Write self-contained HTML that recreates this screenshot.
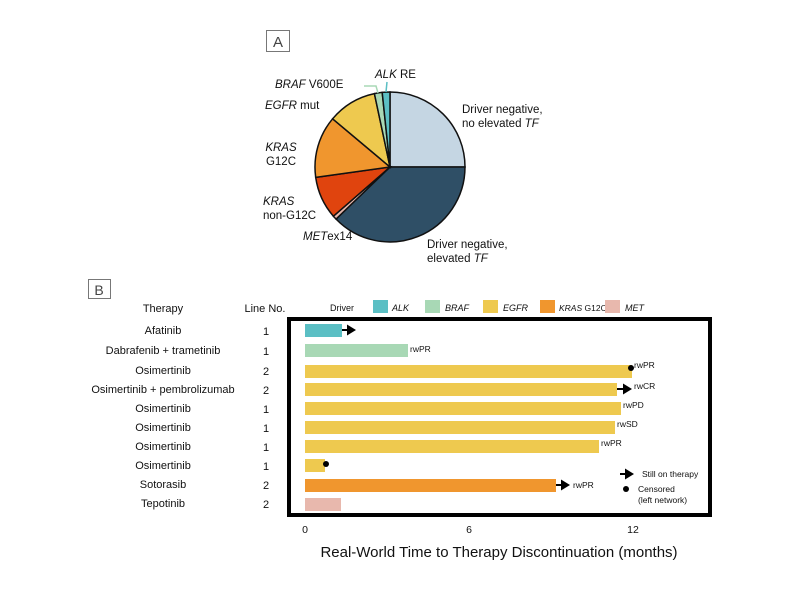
<!DOCTYPE html><html><head><style>body{margin:0;background:#fff;}svg{display:block;font-family:"Liberation Sans",sans-serif;}</style></head><body>
<svg width="800" height="592" viewBox="0 0 800 592">
<rect x="266.5" y="30.5" width="23" height="21" fill="none" stroke="#777"/>
<text x="278" y="47" font-size="15" text-anchor="middle" fill="#444">A</text>
<g stroke="#111" stroke-width="1.5">
<path d="M390,167 L390,92 A75,75 0 0 1 465,167Z" fill="#c5d6e3"/>
<path d="M390,167 L465,167 A75,75 0 0 1 336.1,219.1Z" fill="#2f4f66"/>
<path d="M390,167 L336.1,219.1 A75,75 0 0 1 333.4,216.2Z" fill="#e8b8ad"/>
<path d="M390,167 L333.4,216.2 A75,75 0 0 1 315.7,177.4Z" fill="#e0440e"/>
<path d="M390,167 L315.7,177.4 A75,75 0 0 1 332.6,118.8Z" fill="#f0962e"/>
<path d="M390,167 L332.6,118.8 A75,75 0 0 1 374.4,93.6Z" fill="#eec94f"/>
<path d="M390,167 L374.4,93.6 A75,75 0 0 1 382.2,92.4Z" fill="#a8d8b5"/>
<path d="M390,167 L382.2,92.4 A75,75 0 0 1 390,92Z" fill="#5bbfc4"/>
</g>
<path d="M364,86 L376,86 L378,93" fill="none" stroke="#a8d8b5" stroke-width="1.5"/>
<path d="M387,82 L386,92" fill="none" stroke="#5bbfc4" stroke-width="1.5"/>
<g font-size="11.5" fill="#111">
<text x="375" y="78"><tspan font-style="italic">ALK</tspan> RE</text>
<text x="275" y="88"><tspan font-style="italic">BRAF</tspan> V600E</text>
<text x="265" y="109"><tspan font-style="italic">EGFR</tspan>  mut</text>
<text x="462" y="113">Driver negative,</text>
<text x="462" y="127">no elevated <tspan font-style="italic">TF</tspan></text>
<text x="281" y="151" text-anchor="middle" font-style="italic">KRAS</text>
<text x="281" y="165" text-anchor="middle">G12C</text>
<text x="263" y="205" font-style="italic">KRAS</text>
<text x="263" y="219">non-G12C</text>
<text x="303" y="240"><tspan font-style="italic">MET</tspan>ex14</text>
<text x="427" y="248">Driver negative,</text>
<text x="427" y="262">elevated <tspan font-style="italic">TF</tspan></text>
</g>
<rect x="88.5" y="279.5" width="22" height="19" fill="none" stroke="#777"/>
<text x="99" y="295" font-size="14" text-anchor="middle" fill="#444">B</text>
<g font-size="11" fill="#111">
<text x="163" y="312" text-anchor="middle">Therapy</text>
<text x="265" y="312" text-anchor="middle">Line No.</text>
<text x="330" y="311" font-size="9">Driver</text>
<rect x="373" y="300" width="15" height="13" fill="#5bbfc4"/><text x="392" y="311" font-size="9" font-style="italic">ALK</text>
<rect x="425" y="300" width="15" height="13" fill="#a8d8b5"/><text x="445" y="311" font-size="9" font-style="italic">BRAF</text>
<rect x="483" y="300" width="15" height="13" fill="#eec94f"/><text x="503" y="311" font-size="9" font-style="italic">EGFR</text>
<rect x="540" y="300" width="15" height="13" fill="#f0962e"/><text x="559" y="311" font-size="8.5"><tspan font-style="italic">KRAS</tspan> G12C</text>
<rect x="605" y="300" width="15" height="13" fill="#e8b8ad"/><text x="625" y="311" font-size="9" font-style="italic">MET</text>
</g>
<rect x="289" y="319" width="421" height="196" fill="none" stroke="#000" stroke-width="4"/>
<g font-size="11" fill="#111" text-anchor="middle">
<text x="163" y="334">Afatinib</text><text x="266" y="335">1</text>
<text x="163" y="354">Dabrafenib + trametinib</text><text x="266" y="355">1</text>
<text x="163" y="374">Osimertinib</text><text x="266" y="375">2</text>
<text x="163" y="393">Osimertinib + pembrolizumab</text><text x="266" y="394">2</text>
<text x="163" y="412">Osimertinib</text><text x="266" y="413">1</text>
<text x="163" y="431">Osimertinib</text><text x="266" y="432">1</text>
<text x="163" y="450">Osimertinib</text><text x="266" y="451">1</text>
<text x="163" y="469">Osimertinib</text><text x="266" y="470">1</text>
<text x="163" y="488">Sotorasib</text><text x="266" y="489">2</text>
<text x="163" y="507">Tepotinib</text><text x="266" y="508">2</text>
</g>
<g>
<rect x="305" y="324" width="37" height="13" fill="#5bbfc4"/>
<rect x="305" y="344" width="103" height="13" fill="#a8d8b5"/>
<rect x="305" y="365" width="327" height="13" fill="#eec94f"/>
<rect x="305" y="383" width="312" height="13" fill="#eec94f"/>
<rect x="305" y="402" width="316" height="13" fill="#eec94f"/>
<rect x="305" y="421" width="310" height="13" fill="#eec94f"/>
<rect x="305" y="440" width="294" height="13" fill="#eec94f"/>
<rect x="305" y="459" width="20" height="13" fill="#eec94f"/>
<rect x="305" y="479" width="251" height="13" fill="#f0962e"/>
<rect x="305" y="498" width="36" height="13" fill="#e8b8ad"/>
</g>
<g stroke="#000" stroke-width="2">
<line x1="342" y1="330" x2="348" y2="330"/>
<line x1="617" y1="389" x2="624" y2="389"/>
<line x1="556" y1="485" x2="562" y2="485"/>
<line x1="620" y1="474" x2="626" y2="474"/>
</g>
<g fill="#000">
<path d="M347,324.5 L356,330 L347,335.5Z"/>
<path d="M623,383.5 L632,389 L623,394.5Z"/>
<path d="M561,479.5 L570,485 L561,490.5Z"/>
<path d="M625,468.5 L634,474 L625,479.5Z"/>
</g>
<circle cx="631" cy="368" r="3" fill="#000"/>
<circle cx="326" cy="464" r="3" fill="#000"/>
<circle cx="626" cy="489" r="3" fill="#000"/>
<g font-size="8.5" fill="#111">
<text x="410" y="352">rwPR</text>
<text x="634" y="368">rwPR</text>
<text x="634" y="389">rwCR</text>
<text x="623" y="408">rwPD</text>
<text x="617" y="427">rwSD</text>
<text x="601" y="446">rwPR</text>
<text x="573" y="488">rwPR</text>
<text x="642" y="477">Still on therapy</text>
<text x="638" y="492">Censored</text>
<text x="638" y="503">(left network)</text>
</g>
<g font-size="10.5" fill="#111" text-anchor="middle">
<text x="305" y="533">0</text><text x="469" y="533">6</text><text x="633" y="533">12</text>
</g>
<text x="499" y="557" font-size="15" text-anchor="middle" fill="#111">Real-World Time to Therapy Discontinuation (months)</text>
</svg></body></html>
